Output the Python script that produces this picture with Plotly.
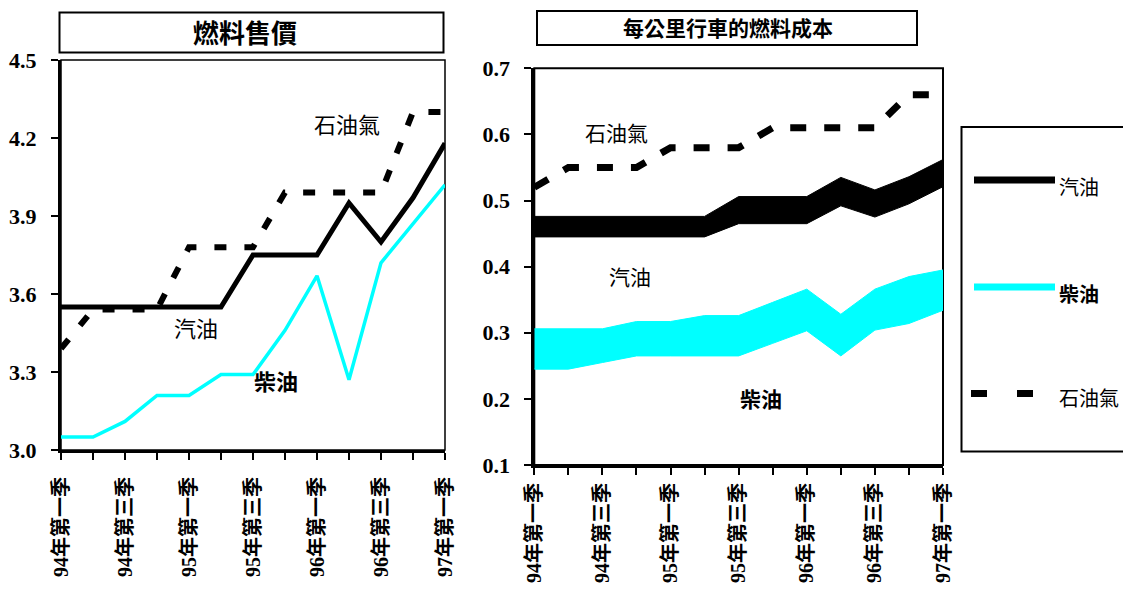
import plotly.graph_objects as go

W, H = 1123, 591

# ---- data -------------------------------------------------------------
quarters = ["94年第一季", "94年第二季", "94年第三季", "94年第四季",
            "95年第一季", "95年第二季", "95年第三季", "95年第四季",
            "96年第一季", "96年第二季", "96年第三季", "96年第四季",
            "97年第一季"]
tick_labels = ["94年第一季", "", "94年第三季", "", "95年第一季", "",
               "95年第三季", "", "96年第一季", "", "96年第三季", "",
               "97年第一季"]

# fuel selling price
price_gasoline = [3.55, 3.55, 3.55, 3.55, 3.55, 3.55, 3.75, 3.75, 3.75,
                  3.95, 3.80, 3.97, 4.18]
price_diesel = [3.05, 3.05, 3.11, 3.21, 3.21, 3.29, 3.29, 3.46, 3.67,
                3.27, 3.72, 3.87, 4.02]
price_lpg = [3.39, 3.54, 3.54, 3.54, 3.78, 3.78, 3.78, 3.99, 3.99,
             3.99, 3.99, 4.30, 4.30]

# fuel cost per kilometre (low / high range)
cost_gasoline_low = [0.445, 0.445, 0.445, 0.445, 0.445, 0.445, 0.465,
                     0.465, 0.465, 0.492, 0.475, 0.495, 0.521]
cost_gasoline_high = [0.476, 0.476, 0.476, 0.476, 0.476, 0.476, 0.506,
                      0.506, 0.506, 0.535, 0.516, 0.536, 0.562]
cost_diesel_low = [0.245, 0.245, 0.255, 0.265, 0.265, 0.265, 0.265,
                   0.284, 0.303, 0.265, 0.304, 0.314, 0.334]
cost_diesel_high = [0.306, 0.306, 0.306, 0.317, 0.317, 0.326, 0.326,
                    0.346, 0.366, 0.328, 0.366, 0.385, 0.395]
cost_lpg = [0.52, 0.55, 0.55, 0.55, 0.58, 0.58, 0.58, 0.61, 0.61,
            0.61, 0.61, 0.66, 0.66]

price_ticks = [3.0, 3.3, 3.6, 3.9, 4.2, 4.5]
cost_ticks = [0.1, 0.2, 0.3, 0.4, 0.5, 0.6, 0.7]

series_names = ["汽油", "柴油", "石油氣"]
titles = ["燃料售價", "每公里行車的燃料成本"]

BLACK = "#000000"
CYAN = "#00FFFF"
CJK = "Noto Sans CJK TC"
NUM = "Liberation Serif, Noto Sans CJK TC"


def px(x):
    return x / W


def py(y):
    return 1 - y / H


fig = go.Figure()

# ---- left panel: selling price ----------------------------------------
fig.add_trace(go.Scatter(x=quarters, y=price_diesel, mode="lines",
                         line=dict(color=CYAN, width=3.5),
                         xaxis="x", yaxis="y", showlegend=False))
fig.add_trace(go.Scatter(x=quarters, y=price_lpg, mode="lines",
                         line=dict(color=BLACK, width=6, dash="12px,18px"),
                         xaxis="x", yaxis="y", showlegend=False))
fig.add_trace(go.Scatter(x=quarters, y=price_gasoline, mode="lines",
                         line=dict(color=BLACK, width=5),
                         xaxis="x", yaxis="y", showlegend=False))

# ---- right panel: cost per km (filled ranges) -------------------------
fig.add_trace(go.Scatter(x=quarters, y=cost_gasoline_low, mode="lines",
                         line=dict(color=BLACK, width=1),
                         xaxis="x2", yaxis="y2", showlegend=False))
fig.add_trace(go.Scatter(x=quarters, y=cost_gasoline_high, mode="lines",
                         line=dict(color=BLACK, width=1), fill="tonexty",
                         fillcolor=BLACK,
                         xaxis="x2", yaxis="y2", showlegend=False))
fig.add_trace(go.Scatter(x=quarters, y=cost_diesel_low, mode="lines",
                         line=dict(color=CYAN, width=1),
                         xaxis="x2", yaxis="y2", showlegend=False))
fig.add_trace(go.Scatter(x=quarters, y=cost_diesel_high, mode="lines",
                         line=dict(color=CYAN, width=1), fill="tonexty",
                         fillcolor=CYAN,
                         xaxis="x2", yaxis="y2", showlegend=False))
fig.add_trace(go.Scatter(x=quarters, y=cost_lpg, mode="lines",
                         line=dict(color=BLACK, width=7, dash="16px,18px"),
                         xaxis="x2", yaxis="y2", showlegend=False))

xcommon = dict(type="category", range=[0, 12], tickmode="array",
               tickvals=quarters, ticktext=tick_labels, tickangle=-90,
               ticks="outside", ticklen=7, tickwidth=2, tickcolor=BLACK,
               showline=True, linewidth=3, linecolor=BLACK,
               showgrid=False, zeroline=False, automargin=False,
               tickfont=dict(family=NUM, size=20, color=BLACK,
                             weight="bold"))
ycommon = dict(ticks="outside", ticklen=7, tickwidth=2, tickcolor=BLACK,
               showline=True, linewidth=3, linecolor=BLACK,
               showgrid=False, zeroline=False, tickformat=".1f",
               automargin=False,
               tickfont=dict(family=NUM, size=22, color=BLACK,
                             weight="bold"))

fig.update_layout(
    template="none",
    width=W, height=H,
    margin=dict(l=0, r=0, t=0, b=0, pad=0),
    paper_bgcolor="white", plot_bgcolor="white",
    xaxis=dict(domain=[px(61), px(445)], anchor="y",
               ticklabelstandoff=9, **xcommon),
    yaxis=dict(domain=[py(450), py(60)], anchor="x", range=[3.0, 4.5],
               tickmode="array", tickvals=price_ticks,
               ticklabelstandoff=10, **ycommon),
    xaxis2=dict(domain=[px(534.3), px(943)], anchor="y2",
                ticklabelstandoff=0, **xcommon),
    yaxis2=dict(domain=[py(465), py(68.3)], anchor="x2", range=[0.1, 0.7],
                tickmode="array", tickvals=cost_ticks,
                ticklabelstandoff=10, **ycommon),
)

shapes = []
# thin frame on the open sides of each plot area
for xr, yr, w in (("x domain", "y domain", 1.5), ("x2 domain", "y2 domain", 2)):
    shapes.append(dict(type="rect", xref=xr, yref=yr, x0=0, x1=1, y0=0, y1=1,
                       line=dict(color=BLACK, width=w), layer="below"))

# title boxes
shapes.append(dict(type="rect", xref="paper", yref="paper",
                   x0=px(59.5), x1=px(443.5), y0=py(52.5), y1=py(12.5),
                   line=dict(color=BLACK, width=2)))
shapes.append(dict(type="rect", xref="paper", yref="paper",
                   x0=px(537), x1=px(917), y0=py(45), y1=py(11),
                   line=dict(color=BLACK, width=2)))

# legend frame and keys
shapes.append(dict(type="rect", xref="paper", yref="paper",
                   x0=px(961.5), x1=px(1135), y0=py(451.5), y1=py(127),
                   line=dict(color=BLACK, width=2)))
shapes.append(dict(type="line", xref="paper", yref="paper",
                   x0=px(974), x1=px(1055), y0=py(180), y1=py(180),
                   line=dict(color=BLACK, width=7)))
shapes.append(dict(type="line", xref="paper", yref="paper",
                   x0=px(974), x1=px(1055), y0=py(287), y1=py(287),
                   line=dict(color=CYAN, width=7)))
shapes.append(dict(type="line", xref="paper", yref="paper",
                   x0=px(971), x1=px(1056), y0=py(393.5), y1=py(393.5),
                   line=dict(color=BLACK, width=7, dash="16px,30px")))
fig.update_layout(shapes=shapes)

annotations = []


def label(text, x, y, size=21, weight="normal", anchor="center"):
    annotations.append(dict(text=text, x=px(x), y=py(y), xref="paper",
                            yref="paper", showarrow=False, xanchor=anchor,
                            yanchor="middle",
                            font=dict(family=CJK, size=size, color=BLACK,
                                      weight=weight)))


label(titles[0], 245, 31, size=26, weight="bold")
label(titles[1], 728, 27, size=21, weight="bold")

# in-plot series labels
label(series_names[2], 347, 123, size=22)
label(series_names[0], 196, 327, size=22)
label(series_names[1], 276, 380, size=22, weight="bold")
label(series_names[2], 616, 132, size=21)
label(series_names[0], 630, 276, size=21)
label(series_names[1], 761, 398, size=21, weight="bold")

# legend labels
label(series_names[0], 1057, 186, size=20, anchor="left")
label(series_names[1], 1057, 293, size=20, weight="bold", anchor="left")
label(series_names[2], 1057, 398, size=20, anchor="left")

fig.update_layout(annotations=annotations)

fig.write_html("out.html")
